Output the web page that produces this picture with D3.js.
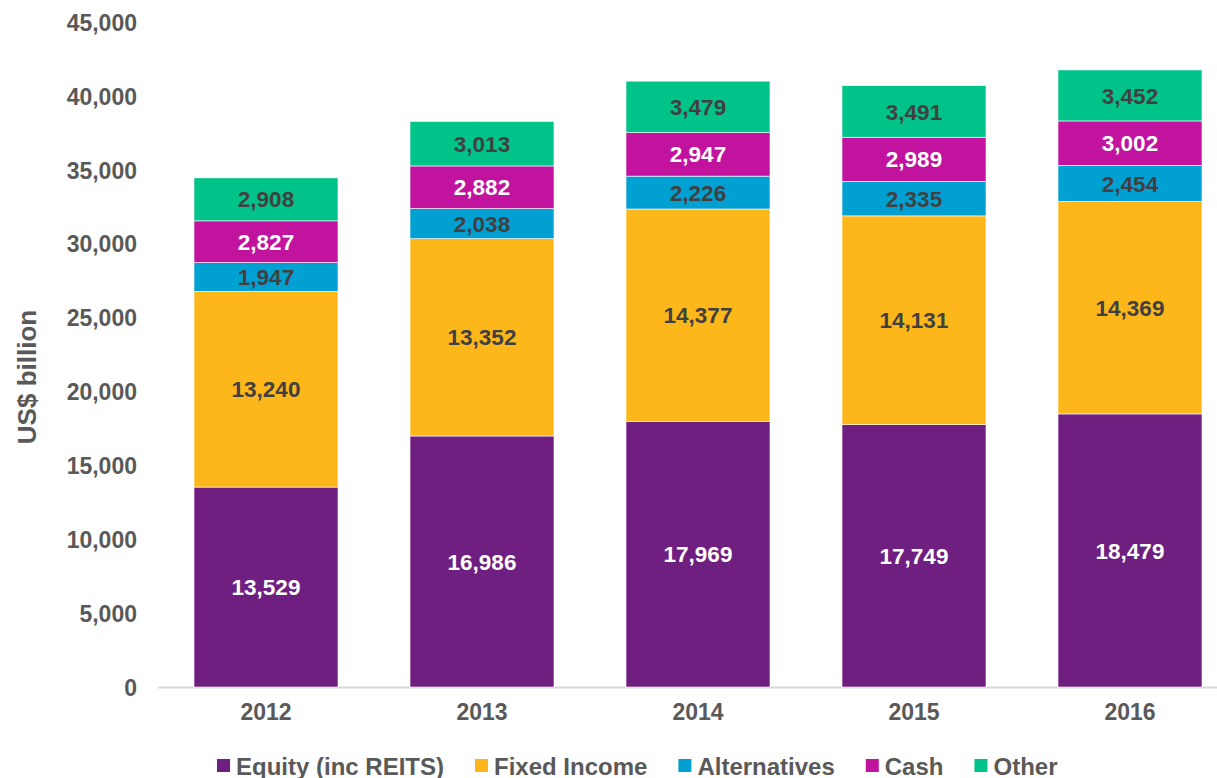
<!DOCTYPE html>
<html>
<head>
<meta charset="utf-8">
<script src="https://cdn.jsdelivr.net/npm/d3@7"></script>
<style>
  body { margin: 0; background: #fff; }
  svg { display: block; font-family: Arial, "Liberation Sans", sans-serif; font-weight: bold; }
  .axis text { fill: #595959; font-size: 23px; font-weight: bold; }
  .axis path, .axis line { display: none; }
</style>
</head>
<body>
<svg id="chart"></svg>
<script>
const years = ['2012', '2013', '2014', '2015', '2016'];
const seriesNames = ['Equity (inc REITS)', 'Fixed Income', 'Alternatives', 'Cash', 'Other'];
const equity = [13529, 16986, 17969, 17749, 18479];
const fixedIncome = [13240, 13352, 14377, 14131, 14369];
const alternatives = [1947, 2038, 2226, 2335, 2454];
const cash = [2827, 2882, 2947, 2989, 3002];
const other = [2908, 3013, 3479, 3491, 3452];
const colors = ['#6F1F80', '#FDB71A', '#00A0D2', '#C1139E', '#00C389'];
const labelColors = ['#ffffff', '#404040', '#404040', '#ffffff', '#404040'];
const yTicks = [0, 5000, 10000, 15000, 20000, 25000, 30000, 35000, 40000, 45000];

const W = 1217, H = 778;
const margin = { top: 22, left: 158, bottom: 91 };
const svg = d3.select('#chart').attr('width', W).attr('height', H);

const rows = years.map((y, i) => ({
  year: y,
  s0: equity[i], s1: fixedIncome[i], s2: alternatives[i], s3: cash[i], s4: other[i]
}));
const keys = ['s0', 's1', 's2', 's3', 's4'];
const stacked = d3.stack().keys(keys)(rows);

const x = d3.scaleBand().domain(years).range([margin.left, margin.left + 5 * 216]).paddingInner(1 / 3).paddingOuter(1 / 6);
const y = d3.scaleLinear().domain([0, 45000]).range([H - margin.bottom, margin.top]);

// y axis
svg.append('g')
  .attr('class', 'axis axis-y')
  .attr('transform', `translate(${margin.left - 8},0)`)
  .call(d3.axisLeft(y).tickValues(yTicks).tickSize(0).tickPadding(13).tickFormat(d3.format(',')))
  .selectAll('text').attr('dy', '0.36em');

// x axis
const gx = svg.append('g')
  .attr('class', 'axis axis-x')
  .attr('transform', `translate(0,${y(0)})`)
  .call(d3.axisBottom(x).tickSize(0).tickPadding(17));
gx.selectAll('text').attr('dy', '0.71em');

svg.append('line')
  .attr('x1', margin.left).attr('x2', W)
  .attr('y1', y(0) + 0.5).attr('y2', y(0) + 0.5)
  .attr('stroke', '#d9d9d9').attr('stroke-width', 2);

// bars
const layers = svg.append('g').selectAll('g')
  .data(stacked)
  .join('g')
  .attr('fill', (d, i) => colors[i]);

layers.selectAll('rect')
  .data(d => d)
  .join('rect')
  .attr('x', d => x(d.data.year))
  .attr('width', x.bandwidth())
  .attr('y', d => y(d[1]))
  .attr('height', d => y(d[0]) - y(d[1]))
  .attr('stroke', '#ffffff')
  .attr('stroke-width', 0.6);

// value labels
stacked.forEach((layer, i) => {
  svg.append('g').selectAll('text')
    .data(layer)
    .join('text')
    .attr('x', d => x(d.data.year) + x.bandwidth() / 2)
    .attr('y', d => (y(d[0]) + y(d[1])) / 2)
    .attr('dy', '0.36em')
    .attr('text-anchor', 'middle')
    .attr('font-size', 22.5)
    .attr('fill', labelColors[i])
    .text(d => d3.format(',')(d[1] - d[0]));
});

// y title
svg.append('text')
  .attr('transform', `translate(36,${377}) rotate(-90)`)
  .attr('text-anchor', 'middle')
  .attr('font-size', 26)
  .attr('fill', '#595959')
  .text('US$ billion');

// legend
const legend = svg.append('g').attr('transform', `translate(0,${766})`);
let lx = 217;
seriesNames.forEach((name, i) => {
  legend.append('rect')
    .attr('x', lx).attr('y', -7).attr('width', 13).attr('height', 13)
    .attr('fill', colors[i]);
  const t = legend.append('text')
    .attr('x', lx + 19).attr('y', 0).attr('dy', '0.36em')
    .attr('font-size', 24).attr('fill', '#595959')
    .text(name);
  lx += 19 + t.node().getComputedTextLength() + 31;
});
</script>
</body>
</html>
